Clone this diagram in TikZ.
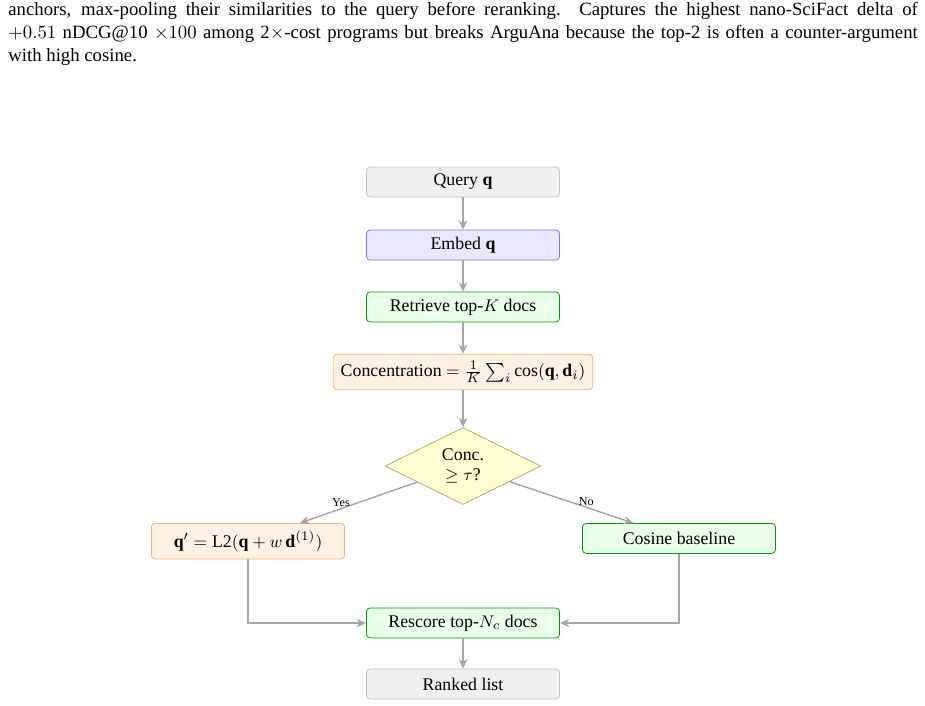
\documentclass[tikz,border=0pt]{standalone}
\usepackage{fontspec}
\setmainfont{Liberation Serif}
\usetikzlibrary{shapes.geometric,arrows.meta}
\definecolor{linegray}{RGB}{165,165,165}
\begin{document}
\begin{tikzpicture}[x=0.5333pt, y=-0.5333pt,
  flow/.style={draw, rounded corners=2pt, minimum width=103pt, minimum height=16pt,
    inner sep=3pt, font=\fontsize{9.5}{11}\selectfont},
  plain/.style={flow, fill=black!6, draw=black!25},
  embedbox/.style={flow, fill=blue!9, draw=blue!55},
  greenbox/.style={flow, fill=green!9, draw=green!60!black},
  orangebox/.style={flow, fill=orange!10, draw=orange!60, minimum height=19pt, inner xsep=4pt},
  decision/.style={diamond, draw=yellow!55!black!80, fill=yellow!18, aspect=2,
    inner sep=1pt, minimum width=83pt, minimum height=41pt, align=center,
    font=\fontsize{9.5}{11}\selectfont},
  link/.style={draw=linegray, line width=0.75pt, -{Stealth[length=5pt,width=4.5pt]}},
  tag/.style={font=\fontsize{6.5}{7}\selectfont, inner sep=0.5pt}]
\useasboundingbox (0,0) rectangle (925,705);
% caption text above the chart
\node[anchor=north west, inner sep=0pt, text width=485pt, align=justify,
  font=\fontsize{10}{12.3}\selectfont] (cap) at (8,2)
  {anchors, max-pooling their similarities to the query before reranking. Captures the highest nano-SciFact delta of\linebreak
   $+0.51$ nDCG@10 $\times 100$ among 2$\times$-cost programs but breaks ArguAna because the top-2 is often a counter-argument\linebreak
   with high cosine.};
% main column
\node[plain] (query) at (463,182) {Query $\mathbf{q}$};
\node[embedbox] (embed) at (463,245) {Embed $\mathbf{q}$};
\node[greenbox] (retr) at (463,307) {Retrieve top-$K$ docs};
\node[orangebox] (conc) at (463,372) {Concentration $= \frac{1}{K}\sum_i \cos(\mathbf{q},\mathbf{d}_i)$};
\node[decision] (dec) at (463,466) {Conc.\\ $\geq \tau$?};
\node[orangebox, anchor=north] (shift) at (248,523) {$\mathbf{q}' = \mathrm{L2}(\mathbf{q} + w\,\mathbf{d}^{(1)})$};
\node[greenbox, anchor=north] (base) at (679,523) {Cosine baseline};
\node[greenbox] (resc) at (463,623) {Rescore top-$N_c$ docs};
\node[plain] (rank) at (463,684) {Ranked list};
% connectors
\draw[link] (query) -- (embed);
\draw[link] (embed) -- (retr);
\draw[link] (retr) -- (conc);
\draw[link] (conc) -- (dec);
\draw[link] (dec) -- node[tag, pos=0.65, above] {Yes} (shift);
\draw[link] (dec) -- node[tag, pos=0.62, above] {No} (base);
\draw[link] (shift) |- (resc);
\draw[link] (base) |- (resc);
\draw[link] (resc) -- (rank);
\end{tikzpicture}
\end{document}
